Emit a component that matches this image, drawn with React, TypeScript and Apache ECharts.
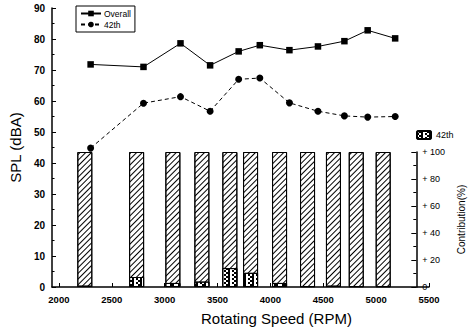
import React, { useEffect, useRef } from "react";
import * as echarts from "echarts";

const rpm = [2300, 2800, 3150, 3430, 3700, 3900, 4180, 4450, 4700, 4920, 5180];
const overall = [71.8, 71.0, 78.6, 71.5, 76.0, 78.0, 76.4, 77.6, 79.3, 82.8, 80.2];
const order42 = [44.8, 59.3, 61.4, 56.7, 67.0, 67.4, 59.4, 56.7, 55.2, 54.8, 55.0];
const contrib42 = [1, 7.4, 3, 4, 14, 10.5, 3, 0.6, 1, 0.6, 0.6];
const contribTotal = [100, 100, 100, 100, 100, 100, 100, 100, 100, 100, 100];
const xTicks = [2000, 2500, 3000, 3500, 4000, 4500, 5000, 5500];

const FONT = "'Liberation Sans', Arial, sans-serif";

export default function App() {
  const ref = useRef<HTMLDivElement>(null);
  useEffect(() => {
    if (!ref.current) return;
    const chart = echarts.init(ref.current, null, { renderer: "svg" });
    const pair = (ys: number[]) => rpm.map((x, i) => [x, ys[i]]);
    const hatch = {
      symbol: "rect",
      color: "#000",
      dashArrayX: [1, 0],
      dashArrayY: [1, 3],
      rotation: -Math.PI / 4,
      symbolSize: 1,
    };
    const cross = {
      symbol: "rect",
      color: "#000",
      dashArrayX: [[2, 2], [0, 2, 2]],
      dashArrayY: [2, 0],
      symbolSize: 1,
    };
    chart.setOption({
      animation: false,
      textStyle: { fontFamily: FONT },
      grid: [
        { left: 47, right: 45, top: 8, bottom: 46 },
        { left: 47, right: 45, top: 152, bottom: 46 },
      ],
      legend: [
        {
          data: ["Overall", "42th"],
          orient: "vertical",
          left: 76,
          top: 6,
          borderColor: "#000",
          borderWidth: 1,
          borderRadius: 0,
          padding: [3, 4, 3, 4],
          itemGap: 2,
          itemWidth: 20,
          itemHeight: 7,
          textStyle: { fontSize: 8.5, fontFamily: FONT, color: "#000", padding: [0, 0, 0, -2] },
        },
        {
          data: ["42th contribution"],
          left: 411,
          top: 125,
          itemWidth: 14,
          itemHeight: 8,
          formatter: () => "42th",
          textStyle: { fontSize: 9, fontFamily: FONT, color: "#000" },
        },
      ],
      xAxis: [
        {
          type: "value",
          gridIndex: 0,
          min: 1935,
          max: 5500,
          splitLine: { show: false },
          axisLine: { lineStyle: { color: "#000", width: 1.5 } },
          axisTick: { inside: true, length: 4, customValues: xTicks, lineStyle: { color: "#000" } },
          axisLabel: {
            customValues: xTicks,
            formatter: (v: number) => String(v),
            color: "#000",
            fontSize: 9.5,
            fontWeight: "bold",
            fontFamily: FONT,
            margin: 7,
          },
        },
        {
          type: "value",
          gridIndex: 1,
          min: 1935,
          max: 5500,
          show: false,
        },
      ],
      yAxis: [
        {
          type: "value",
          gridIndex: 0,
          min: 0,
          max: 90,
          interval: 10,
          name: "SPL (dBA)",
          nameLocation: "middle",
          nameGap: 26,
          nameTextStyle: { fontSize: 15, fontFamily: FONT, color: "#000" },
          splitLine: { show: false },
          axisLine: { show: true, lineStyle: { color: "#000", width: 1.5 } },
          axisTick: { inside: true, length: 4, lineStyle: { color: "#000" } },
          minorTick: { show: true, splitNumber: 2, length: 2.5, lineStyle: { color: "#000" } },
          axisLabel: { color: "#000", fontSize: 10, fontWeight: "bold", fontFamily: FONT, margin: 7 },
        },
        {
          type: "value",
          gridIndex: 1,
          position: "right",
          min: 0,
          max: 100,
          interval: 20,
          name: "Contribution(%)",
          nameLocation: "middle",
          nameRotate: 90,
          nameGap: 31,
          nameTextStyle: { fontSize: 10, fontFamily: FONT, color: "#000" },
          splitLine: { show: false },
          axisLine: { show: true, lineStyle: { color: "#000", width: 1.5 } },
          axisTick: { inside: true, length: 5, lineStyle: { color: "#000" } },
          minorTick: { show: true, splitNumber: 2, length: 3, lineStyle: { color: "#000" } },
          axisLabel: {
            color: "#000",
            fontSize: 9,
            fontFamily: FONT,
            margin: 6,
            formatter: (v: number) => (v === 0 ? "0" : "+ " + v),
          },
        },
      ],
      series: [
        {
          name: "Total",
          type: "bar",
          xAxisIndex: 1,
          yAxisIndex: 1,
          barWidth: 15,
          barGap: "-100%",
          data: pair(contribTotal),
          itemStyle: { color: "#fff", borderColor: "#000", borderWidth: 1, decal: hatch },
          z: 1,
        },
        {
          name: "42th contribution",
          type: "bar",
          xAxisIndex: 1,
          yAxisIndex: 1,
          barWidth: 15,
          barGap: "-100%",
          data: pair(contrib42),
          itemStyle: { color: "#fff", borderColor: "#000", borderWidth: 1, decal: cross },
          z: 2,
        },
        {
          name: "Overall",
          type: "line",
          xAxisIndex: 0,
          yAxisIndex: 0,
          data: pair(overall),
          symbol: "rect",
          symbolSize: 6.5,
          itemStyle: { color: "#000" },
          lineStyle: { color: "#000", width: 1, type: "solid" },
          z: 5,
        },
        {
          name: "42th",
          type: "line",
          xAxisIndex: 0,
          yAxisIndex: 0,
          data: pair(order42),
          symbol: "circle",
          symbolSize: 7,
          itemStyle: { color: "#000" },
          lineStyle: { color: "#000", width: 1, type: [4, 3] },
          z: 5,
        },
      ],
      graphic: [
        {
          type: "text",
          left: 276 - 75,
          top: 311,
          style: { text: "Rotating Speed (RPM)", fontSize: 15, fontFamily: FONT, fill: "#000" },
        },
      ],
    });
    return () => chart.dispose();
  }, []);
  return <div ref={ref} style={{ position: "fixed", left: 0, top: 0, width: 474, height: 333, background: "#fff" }} />;
}
